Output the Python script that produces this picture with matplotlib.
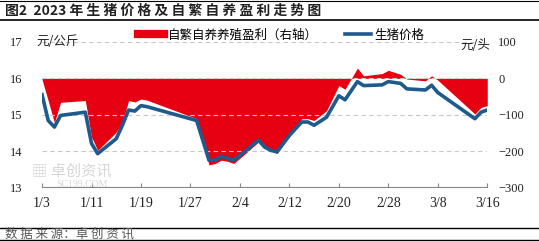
import matplotlib.pyplot as plt
from matplotlib.lines import Line2D
from datetime import datetime

plt.rcParams['font.family'] = ['Noto Sans CJK SC', 'DejaVu Sans']

# ---- data ----
dates = ["1/3", "1/4", "1/5", "1/6", "1/10", "1/11", "1/12", "1/15", "1/16",
         "1/17", "1/18", "1/19", "1/20", "1/28", "1/30", "1/31", "2/1", "2/2",
         "2/3", "2/5", "2/7", "2/8", "2/9", "2/10", "2/12", "2/14", "2/15",
         "2/16", "2/18", "2/20", "2/21", "2/23", "2/24", "2/27", "2/28", "3/2",
         "3/3", "3/6", "3/7", "3/8", "3/14", "3/15", "3/16"]
price = [15.55, 14.84, 14.66, 14.98, 15.07, 14.21, 13.93, 14.34, 14.71,
         15.13, 15.10, 15.25, 15.22, 14.84, 13.75, 13.75, 13.86, 13.80,
         13.75, 14.02, 14.30, 14.11, 14.02, 13.98, 14.43, 14.80, 14.80,
         14.71, 14.93, 15.52, 15.41, 15.91, 15.80, 15.82, 15.91, 15.86,
         15.71, 15.68, 15.81, 15.61, 14.89, 15.07, 15.13]
profit = [-3, -62, -122, -66, -61, -161, -198, -148, -120,
          -61, -65, -57, -60, -111, -238, -234, -225, -228,
          -234, -205, -175, -190, -198, -207, -160, -111, -111,
          -116, -89, -20, -30, 28, 7, 13, 22, 11,
          -2, -7, 7, -5, -98, -80, -75]
tick_labels = ["1/3", "1/11", "1/19", "1/27", "2/4", "2/12", "2/20", "2/28", "3/8", "3/16"]


def to_date(s):
    m, d = s.split("/")
    return datetime(2023, int(m), int(d))


x = [to_date(s) for s in dates]
ticks = [to_date(s) for s in tick_labels]

red = "#e60012"
blue = "#1f5a8c"

fig = plt.figure(figsize=(5.39, 2.41), dpi=100)
ax = fig.add_axes([0.078, 0.222, 0.826, 0.604])
ax2 = ax.twinx()

# red area on the right axis, blue line drawn above it
ax2.fill_between(x, profit, 0, color=red, linewidth=0)
ax.plot(x, price, color=blue, linewidth=2.6, solid_joinstyle="round")
ax.set_zorder(ax2.get_zorder() + 1)
ax.patch.set_visible(False)

ax.set_ylim(13, 17)
ax2.set_ylim(-300, 100)
ax.set_xlim(ticks[0], ticks[-1])
ax.set_yticks([13, 14, 15, 16, 17])
ax2.set_yticks([-300, -200, -100, 0, 100])
ax2.set_yticklabels(["\u2212300", "\u2212200", "\u2212100", "0", "100"])
ax.set_xticks(ticks)
ax.set_xticklabels(tick_labels)

for a in (ax, ax2):
    for s in ("top", "left", "right"):
        a.spines[s].set_visible(False)
    a.spines["bottom"].set_color("#888888")
    a.spines["bottom"].set_linewidth(0.8)
ax2.spines["bottom"].set_visible(False)

ax.grid(axis="y", color="#c8c8c8", linestyle=(0, (4, 3)), linewidth=0.8)
ax.tick_params(axis="y", length=0, labelsize=9, colors="#222222", pad=14)
ax2.tick_params(axis="y", length=0, labelsize=9, colors="#222222", pad=8)
ax.tick_params(axis="x", direction="in", length=3, color="#888888",
               labelsize=10, colors="#222222", pad=7)
for lab in ax.get_yticklabels() + ax2.get_yticklabels() + ax.get_xticklabels():
    lab.set_family("Liberation Serif")

# unit labels
fig.text(0.068, 0.826, "元/公斤", fontsize=9, ha="left", va="center", color="#222222")
fig.text(0.855, 0.81, "元/头", fontsize=9, ha="left", va="center", color="#222222")

# legend
handles = [Line2D([], [], color=red, linewidth=6),
           Line2D([], [], color=blue, linewidth=2.6)]
fig.legend(handles, ["自繁自养养殖盈利（右轴）", "生猪价格"], ncol=2, frameon=False,
           loc="center", bbox_to_anchor=(0.522, 0.855), fontsize=9,
           handlelength=2.1, handletextpad=0.25, columnspacing=2.2)

# title and source with rules
fig.text(0.01, 0.955, "图2  2023 年 生 猪 价 格 及 自 繁 自 养 盈 利 走 势 图", fontsize=10,
         fontweight="bold", ha="left", va="center", color="#222222")
fig.add_artist(Line2D([0, 1], [0.997, 0.997], color="black", linewidth=0.8))
fig.add_artist(Line2D([0, 1], [0.915, 0.915], color="black", linewidth=1.2))
fig.add_artist(Line2D([0, 1], [0.055, 0.055], color="black", linewidth=1.0))
fig.add_artist(Line2D([0, 1], [0.005, 0.005], color="black", linewidth=1.0))
fig.text(0.01, 0.03, "数 据 来 源：卓 创 资 讯", fontsize=9, ha="left", va="center", color="#555555")

# watermark
fig.text(0.06, 0.29, "▦ 卓创资讯", fontsize=11, color="#cccccc", alpha=0.8,
         ha="left", va="center")
fig.text(0.105, 0.235, "SC199.COM", fontsize=7, color="#cccccc", alpha=0.8,
         ha="left", va="center", family="Liberation Serif")

fig.savefig("out.png", dpi=100)
